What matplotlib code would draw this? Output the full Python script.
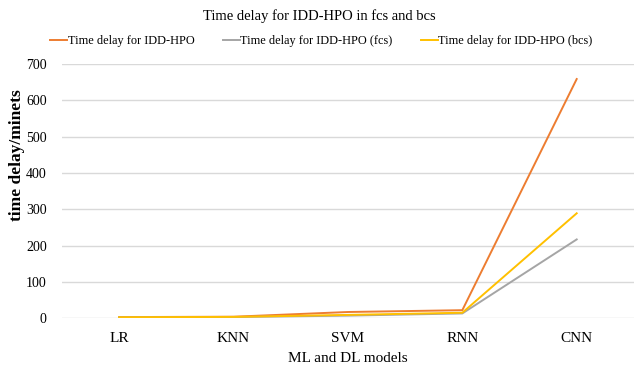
import matplotlib
matplotlib.use("Agg")
import matplotlib.pyplot as plt

plt.rcParams['font.family'] = ['Liberation Serif', 'DejaVu Serif']

# ML / DL models and measured delays (minutes)
models = ["LR", "KNN", "SVM", "RNN", "CNN"]
delay_total = [3, 4, 17, 22, 659]
delay_fcs = [2, 3, 7, 13, 217]
delay_bcs = [2.5, 3.5, 9, 15, 289]
y_ticks = [0, 100, 200, 300, 400, 500, 600, 700]

fig = plt.figure(figsize=(6.39, 3.73), dpi=100)
ax = fig.add_axes([0.097, 0.147, 0.895, 0.681])

x = list(range(len(models)))
ax.plot(x, delay_total, color="#ED7D31", lw=1.4, label="Time delay for IDD-HPO")
ax.plot(x, delay_fcs, color="#A5A5A5", lw=1.4, label="Time delay for IDD-HPO (fcs)")
ax.plot(x, delay_bcs, color="#FFC000", lw=1.4, label="Time delay for IDD-HPO (bcs)")

ax.set_xlim(-0.5, len(models) - 0.5)
ax.set_ylim(0, 700)
ax.set_yticks(y_ticks)
ax.set_xticks(x)
ax.set_xticklabels(models, fontsize=11)
ax.tick_params(axis="y", labelsize=10, length=0, pad=11)
ax.tick_params(axis="x", length=0, pad=10)
ax.grid(axis="y", color="#D9D9D9", lw=1)
ax.set_axisbelow(True)
for s in ax.spines.values():
    s.set_visible(False)

ax.set_xlabel("ML and DL models", fontsize=11, labelpad=5)
ax.set_ylabel("time delay/minets", fontsize=12.5, fontweight="bold")
ax.yaxis.set_label_coords(-0.065, 0.64)

fig.suptitle("Time delay for IDD-HPO in fcs and bcs", fontsize=10.5, y=0.975)
fig.legend(loc="upper center", bbox_to_anchor=(0.503, 0.935), ncol=3, frameon=False,
           fontsize=8.8, handlelength=1.4, handletextpad=0.05, columnspacing=2.3)

fig.savefig("out.png", dpi=100)
